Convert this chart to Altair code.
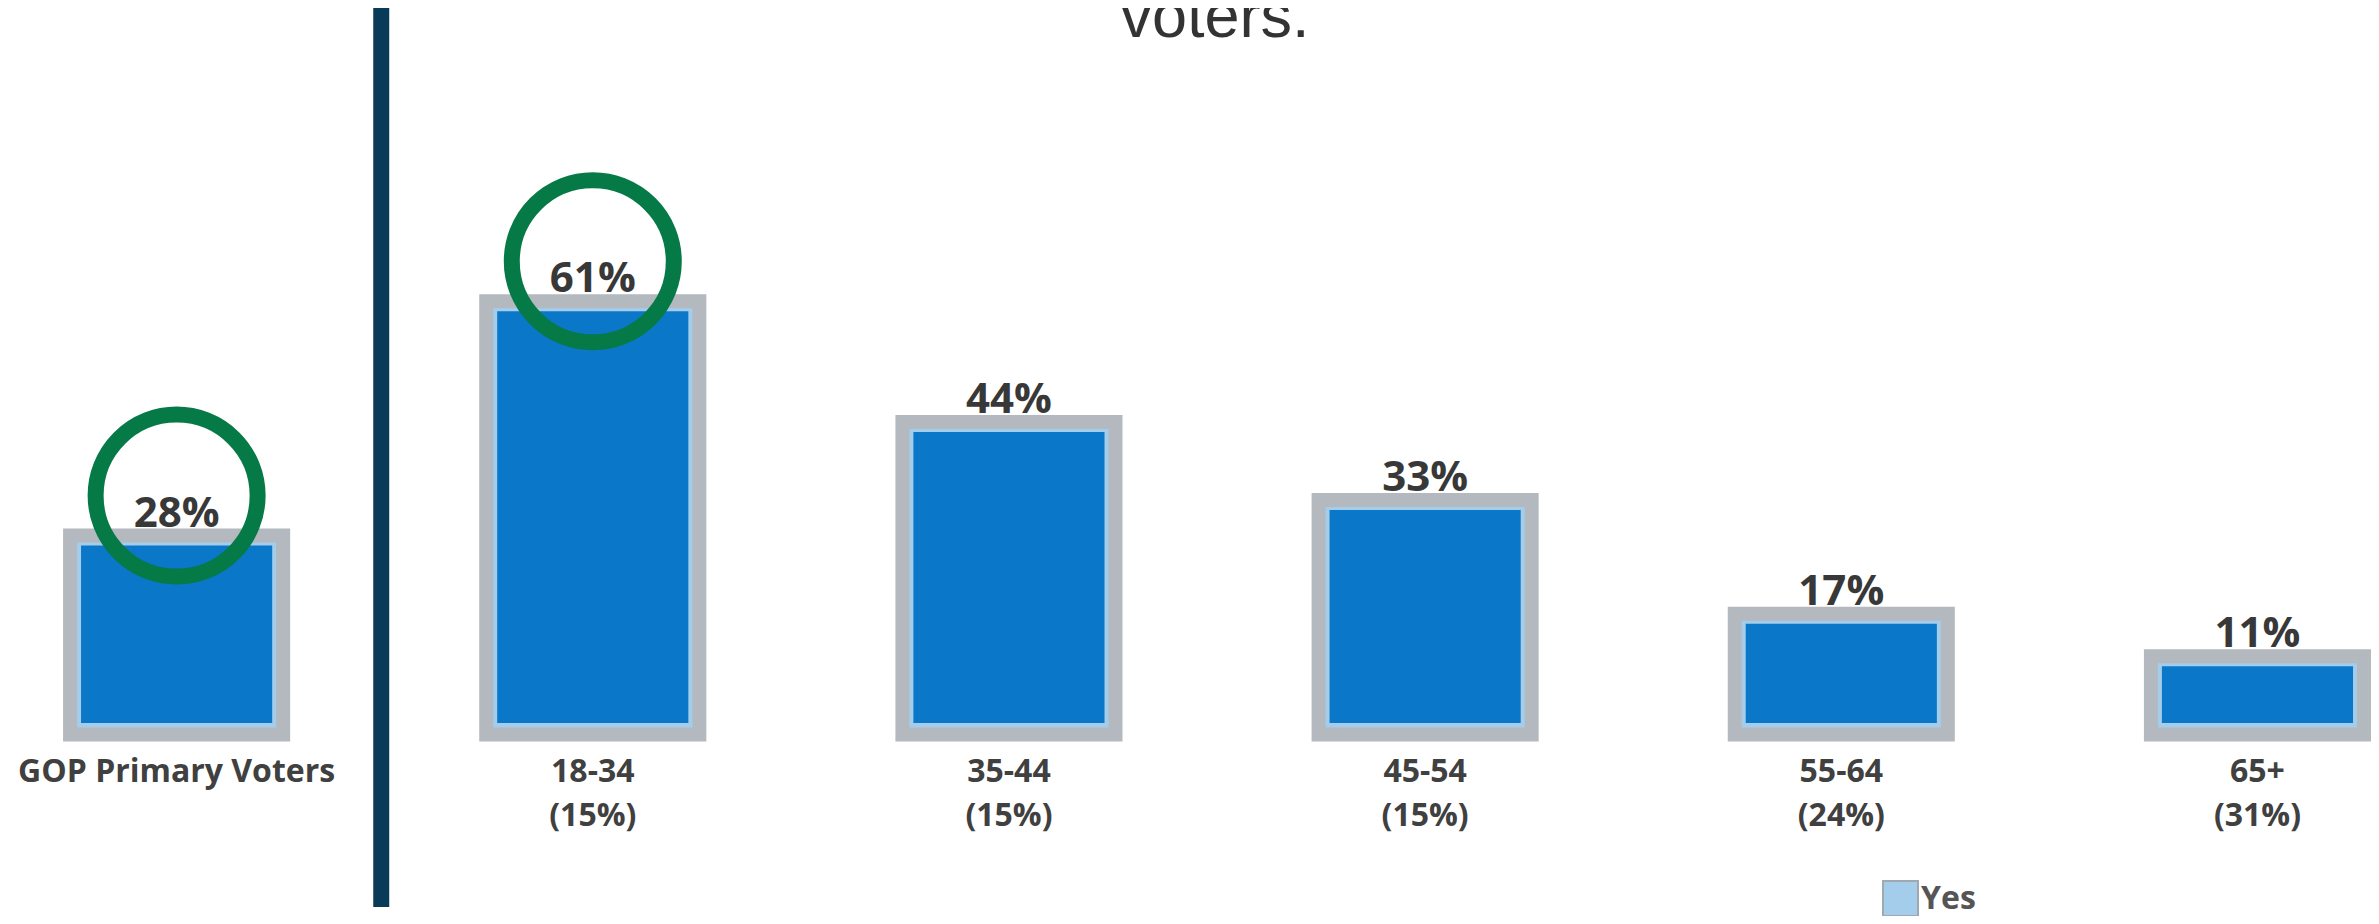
import altair as alt
import pandas as pd

# ---- data ----
categories = ["GOP Primary Voters", "18-34", "35-44", "45-54", "55-64", "65+"]
shares = ["", "(15%)", "(15%)", "(15%)", "(24%)", "(31%)"]
values = [28, 61, 44, 33, 17, 11]
highlight = [True, True, False, False, False, False]
series_name = "Yes"
title_tail = "voters."
separator_before = "18-34"

Y_MIN, Y_MAX = -24.3, 102.3

df = pd.DataFrame({"cat": categories, "share": shares, "value": values, "hl": highlight})
df["series"] = series_name
df["label"] = [f"{v}%" for v in values]
df["xlabel"] = [c if s == "" else f"{c}\n{s}" for c, s in zip(categories, shares)]
df["zero"] = 0

sep_df = pd.DataFrame({"cat": [separator_before], "top": [Y_MAX], "bottom": [Y_MIN]})

xs = alt.Scale(domain=categories, paddingInner=0.488, paddingOuter=0.083, align=0.8986, round=False)
ys = alt.Scale(domain=[Y_MIN, Y_MAX], nice=False, zero=False)

X = alt.X("cat:N", scale=xs, axis=None)
Y = alt.Y("value:Q", scale=ys, axis=None)
Y0 = alt.Y2("zero:Q")

base = alt.Chart(df)

outer = base.mark_bar(stroke="#b3b9bf", strokeWidth=14).encode(
    x=X,
    y=Y,
    y2=Y0,
    fill=alt.Fill(
        "series:N",
        scale=alt.Scale(domain=[series_name], range=["#a4cdec"]),
        legend=alt.Legend(
            title=None,
            orient="none",
            legendX=1874,
            legendY=872,
            symbolType="square",
            symbolSize=1225,
            symbolStrokeWidth=2,
            symbolOpacity=1,
            symbolStrokeColor="#a0a8b0",
            labelFont="Open Sans",
            labelFontSize=32,
            labelFontWeight="bold",
            labelColor="#555555",
            labelOffset=2,
        ),
    ),
)

inner = base.mark_bar(
    color="#0a77c8", width=alt.RelativeBandSize(0.897), yOffset=10, y2Offset=-11.5
).encode(x=X, y=Y, y2=Y0)

vlabels = base.mark_text(
    font="Open Sans", fontSize=42, fontWeight="bold", color="#383838",
    baseline="alphabetic", dy=-9,
).encode(x=X, y=Y, text="label:N")

clabels = base.mark_text(
    font="Open Sans", fontSize=32, fontWeight="bold", color="#404040",
    baseline="alphabetic", dy=48, lineBreak="\n", lineHeight=44,
).encode(x=X, y=alt.Y("zero:Q", scale=ys, axis=None), text="xlabel:N")

circles = base.transform_filter("datum.hl").mark_point(
    shape="circle", size=26244, filled=False, color="#067a46",
    strokeWidth=16, yOffset=-40, opacity=1,
).encode(x=X, y=Y)

sep = alt.Chart(sep_df).mark_rule(
    color="#083b57", strokeWidth=16, xOffset=-105
).encode(
    x=alt.X("cat:N", scale=xs, axis=None, bandPosition=0),
    y=alt.Y("top:Q", scale=ys, axis=None),
    y2=alt.Y2("bottom:Q"),
)

title = alt.Chart(pd.DataFrame({"t": [title_tail]})).mark_text(
    font="Liberation Sans, Arial, Helvetica",
    fontSize=63, color="#333333", baseline="alphabetic", align="center",
).encode(x=alt.value(1207), y=alt.value(29), text="t:N")

chart = alt.layer(outer, inner, vlabels, clabels, circles, sep, title).properties(
    width=2363,
    height=899,
    padding={"left": 0, "top": 0, "right": 0, "bottom": 9},
    autosize=alt.AutoSizeParams(type="none"),
).configure_view(stroke=None)

chart.save("out.html", embed_options={"renderer": "svg", "actions": False})
